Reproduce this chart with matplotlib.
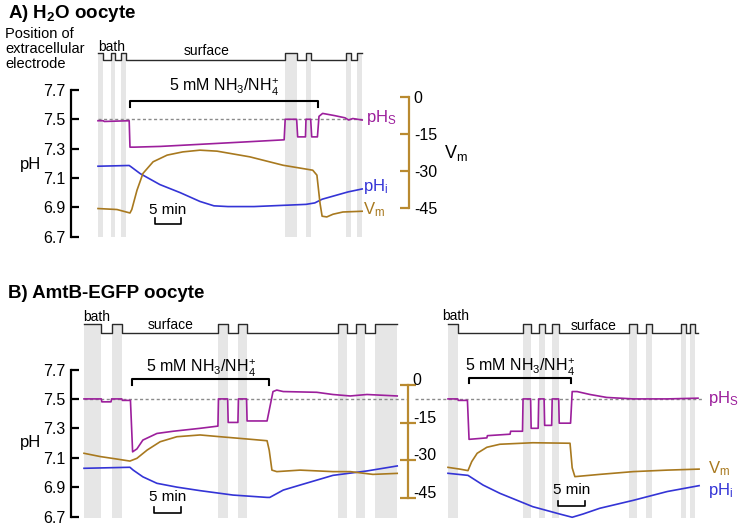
import matplotlib
matplotlib.use("Agg")
import matplotlib.pyplot as plt
from matplotlib.transforms import ScaledTranslation

plt.rcParams['font.family'] = ['Liberation Sans', 'DejaVu Sans']
plt.rcParams['mathtext.fontset'] = 'custom'
plt.rcParams['mathtext.rm'] = 'Liberation Sans'
plt.rcParams['mathtext.it'] = 'Liberation Sans:italic'
plt.rcParams['mathtext.bf'] = 'Liberation Sans:bold'

# ---------------- data ----------------
ph_ticks = [6.7, 6.9, 7.1, 7.3, 7.5, 7.7]
ph_ticklabels = ["6.7", "6.9", "7.1", "7.3", "7.5", "7.7"]
vm_ticks = [-45, -30, -15, 0]
vm_ticklabels = ["-45", "-30", "-15", "0"]
pHs_ref = 7.5
scale_min = 5

# Panel A: H2O oocyte (time in min)
A_bands = [(0, 1.0), (2.5, 3.3), (4.4, 5.4), (36.0, 38.3), (40.0, 41.0), (47.7, 48.7), (49.8, 50.8)]
A_trace_end = 50.8
A_nh4 = [6.15, 42.3]
A_pHs_t = [0, 1.0, 1.2, 6.0, 6.15, 7, 12, 20, 28, 35.8, 36.0, 38.2, 38.4, 39.9, 40.0, 40.9,
           41.1, 42.2, 42.5, 43.2, 45.5, 47.5, 48.2, 49.0, 50.8]
A_pHs = [7.49, 7.49, 7.485, 7.49, 7.31, 7.31, 7.315, 7.33, 7.345, 7.36, 7.50, 7.50, 7.38, 7.38,
         7.50, 7.50, 7.38, 7.38, 7.52, 7.54, 7.525, 7.51, 7.495, 7.505, 7.495]
A_pHi_t = [0, 6.0, 6.4, 8.1, 11.9, 15.8, 19.6, 22.3, 25, 30, 40, 41.7, 43.1, 45.6, 48.1, 50.8]
A_pHi = [7.18, 7.185, 7.175, 7.13, 7.055, 7.0, 6.94, 6.91, 6.905, 6.905, 6.92, 6.93, 6.955,
         6.98, 7.005, 7.025]
A_Vm_t = [0, 3.65, 6.15, 6.5, 7.5, 8.65, 10.6, 13.3, 16.3, 19.6, 22.9, 29.2, 35.6, 41.3, 42.1,
          42.7, 43.1, 44.0, 45.2, 47.1, 50.8]
A_Vm = [-45.1, -45.5, -46.9, -45.5, -37.7, -30.9, -26.2, -23.5, -22.2, -21.5, -21.9, -24.2,
        -27.6, -29.6, -31.6, -43.0, -48.2, -48.5, -47.4, -46.5, -46.2]

# Panel B left: AmtB-EGFP oocyte
BL_bands = [(0, 3.2), (5.1, 7.1), (24.9, 26.7), (28.6, 30.2), (47.1, 48.7), (50.3, 52.0), (53.9, 58.0)]
BL_trace_end = 58.0
BL_nh4 = [8.9, 34.3]
BL_pHs_t = [0, 3.2, 3.3, 5.0, 5.1, 7.0, 7.1, 8.6, 9.0, 9.8, 10.9, 13.5, 16.5, 21.5, 24.8, 24.9,
            26.6, 26.7, 28.5, 28.6, 30.1, 30.2, 33.9, 35.0, 35.7, 36.9, 43.1, 46.1, 49.3, 52.4, 58.0]
BL_pHs = [7.50, 7.50, 7.48, 7.48, 7.50, 7.50, 7.49, 7.49, 7.14, 7.16, 7.22, 7.265, 7.28, 7.30,
          7.315, 7.50, 7.50, 7.34, 7.34, 7.50, 7.50, 7.35, 7.35, 7.55, 7.56, 7.55, 7.545, 7.53,
          7.52, 7.53, 7.52]
BL_Vm_t = [0, 3.0, 6.1, 8.5, 9.8, 11.7, 14.1, 17.2, 21.5, 25.2, 30.7, 33.9, 34.3, 34.8, 35.7,
           40.0, 46.1, 49.3, 53.5, 58.0]
BL_Vm = [-27.2, -28.5, -29.5, -30.3, -29.2, -25.9, -22.6, -20.6, -19.9, -20.6, -21.6, -22.2,
         -26.0, -33.9, -34.5, -33.9, -34.5, -34.5, -35.6, -35.2]
BL_pHi_t = [0, 8.5, 9.1, 10.9, 13.5, 17.2, 21.5, 27.6, 33.9, 34.4, 36.9, 40.0, 46.1, 52.4, 58.0]
BL_pHi = [7.028, 7.035, 7.016, 6.97, 6.926, 6.90, 6.876, 6.846, 6.83, 6.83, 6.88, 6.914, 6.98,
          7.01, 7.044]

# Panel B right: AmtB-EGFP oocyte (second recording)
BR_bands = [(0, 1.9), (13.9, 15.4), (16.8, 17.9), (19.3, 20.6), (33.6, 35.0), (36.7, 37.8),
            (43.2, 44.0), (44.9, 45.8)]
BR_trace_end = 46.3
BR_nh4 = [3.9, 22.8]
BR_pHs_t = [0, 1.8, 1.9, 3.6, 3.9, 7.2, 7.3, 11.5, 11.6, 13.8, 13.9, 15.3, 15.4, 16.7, 16.8,
            17.8, 17.9, 19.2, 19.3, 20.5, 20.6, 22.7, 23.0, 23.9, 26.3, 29.4, 34.3, 40.6, 46.3]
BR_pHs = [7.50, 7.50, 7.49, 7.49, 7.225, 7.235, 7.25, 7.26, 7.28, 7.28, 7.50, 7.50, 7.30, 7.30,
          7.50, 7.50, 7.32, 7.32, 7.50, 7.50, 7.335, 7.335, 7.55, 7.55, 7.53, 7.51, 7.50, 7.50, 7.505]
BR_Vm_t = [0, 2.2, 3.7, 4.4, 5.4, 7.2, 9.6, 15.7, 22.6, 23.0, 23.5, 28.1, 34.3, 40.6, 46.5]
BR_Vm = [-32.8, -33.5, -34.1, -30.5, -27.2, -24.8, -23.6, -23.0, -23.2, -33.0, -36.5, -35.6,
         -34.5, -33.9, -33.5]
BR_pHi_t = [0, 3.7, 6.5, 9.6, 15.7, 20.7, 23.0, 25.0, 28.1, 34.3, 40.6, 46.5]
BR_pHi = [6.994, 6.98, 6.914, 6.858, 6.767, 6.717, 6.695, 6.717, 6.756, 6.81, 6.87, 6.91]

# ---------------- style ----------------
C_S = '#9C1F9C'
C_I = '#3434D6'
C_V = '#A8791F'
C_AX = '#B98A30'
C_BAND = '#E6E6E6'
C_EL = '#2a2a2a'
LW = 1.2

W, H = 741, 529
fig = plt.figure(figsize=(W / 100, H / 100), dpi=100)


def axpos(x0, x1, ytop, ybot):
    return [x0 / W, 1 - ybot / H, (x1 - x0) / W, (ybot - ytop) / H]


def hide(ax):
    ax.patch.set_visible(False)
    for s in ax.spines.values():
        s.set_visible(False)
    ax.set_xticks([])
    ax.set_yticks([])


def make_panel(x0, x1, ytop, ybot, xlim, ylim_ph, ylim_vm, el_bot):
    ax = fig.add_axes(axpos(x0, x1, ytop, ybot))
    ax.set_xlim(xlim)
    ax.set_ylim(ylim_ph)
    hide(ax)
    axv = ax.twinx()
    axv.set_ylim(ylim_vm)
    hide(axv)
    axe = fig.add_axes(axpos(x0, x1, ytop, el_bot))
    axe.set_xlim(xlim)
    axe.set_ylim(0, 1)
    hide(axe)
    return ax, axv, axe


def electrode(axe, bands, t_end):
    ts, lv = [], []
    for a, b in bands:
        ts += [a, min(b, t_end)]
        lv += [1, 0 if b < t_end else 1]
    if ts[-1] < t_end:
        ts.append(t_end)
        lv.append(lv[-1])
    axe.plot(ts, lv, drawstyle='steps-post', color=C_EL, lw=1.0, clip_on=False)


def bands_draw(ax, bands):
    for a, b in bands:
        ax.axvspan(a, b, color=C_BAND, lw=0, zorder=0)


def ph_axis(ax):
    ax.spines['left'].set_visible(True)
    ax.spines['left'].set_bounds(6.7, 7.7)
    ax.spines['left'].set_linewidth(1.6)
    ax.set_yticks(ph_ticks, ph_ticklabels)
    ax.tick_params(axis='y', direction='in', length=6, width=1.6, labelsize=11.5, pad=4)


def vm_axis(axv, direction, length, pad, raise_px=0):
    sp = axv.spines['right']
    sp.set_visible(True)
    sp.set_bounds(-45, 0)
    sp.set_color(C_AX)
    sp.set_linewidth(1.6)
    axv.set_yticks(vm_ticks, vm_ticklabels)
    axv.tick_params(axis='y', direction=direction, length=length, width=1.6, color=C_AX,
                    labelsize=11.5, pad=pad, labelcolor='black')
    if raise_px:
        off = ScaledTranslation(0, raise_px / 100, fig.dpi_scale_trans)
        for lab in axv.get_yticklabels():
            lab.set_transform(lab.get_transform() + off)


def bracket(ax, a, b, y_br, y_tk, y_txt):
    ax.plot([a, a, b, b], [y_tk, y_br, y_br, y_tk], color='black', lw=1.5, clip_on=False)
    ax.text((a + b) / 2, y_txt, r"5 mM NH$_\mathregular{3}$/NH$_\mathregular{4}^\mathregular{+}$",
            ha='center', va='center', fontsize=11.5)


def scalebar(ax, t0, y_bar, y_tk, y_txt):
    ax.plot([t0, t0, t0 + scale_min, t0 + scale_min], [y_tk, y_bar, y_bar, y_tk],
            color='black', lw=1.2, clip_on=False)
    ax.text(t0 + scale_min / 2, y_txt, "5 min", ha='center', va='center', fontsize=11)


def traces(ax, axv, pHs_t, pHs, pHi_t, pHi, vm_t, vm):
    axv.plot(vm_t, vm, color=C_V, lw=LW, clip_on=False, zorder=3)
    ax.plot(pHi_t, pHi, color=C_I, lw=LW, clip_on=False, zorder=3)
    ax.plot(pHs_t, pHs, color=C_S, lw=LW, clip_on=False, zorder=4)


# ---------------- Panel A ----------------
axA, axAv, axAe = make_panel(71, 409, 53, 237, (-5.19, 59.81), (6.6976, 7.9517),
                             (-56.61, 17.79), 60)
bands_draw(axA, A_bands)
electrode(axAe, A_bands, A_trace_end)
ph_axis(axA)
vm_axis(axAv, 'in', 6.5, 3.5)
axA.plot([0, A_trace_end], [pHs_ref, pHs_ref], color='#8a8a8a', lw=1.0,
         linestyle=(0, (2.2, 1.8)), zorder=2)
traces(axA, axAv, A_pHs_t, A_pHs, A_pHi_t, A_pHi, A_Vm_t, A_Vm)
bracket(axA, A_nh4[0], A_nh4[1], 7.625, 7.584, 7.714)
scalebar(axA, 10.96, 6.788, 6.829, 6.884)
axA.text(51.5, 7.51, r"pH$_\mathregular{S}$", color=C_S, fontsize=12, va='center', ha='left')
axA.text(51.0, 7.04, r"pH$_\mathregular{i}$", color=C_I, fontsize=12, va='center', ha='left')
axAv.text(51.0, -45.7, r"V$_\mathregular{m}$", color=C_V, fontsize=12, va='center', ha='left')
axAe.text(0, 1.86, "bath", fontsize=10, ha='left', va='center')
axAe.text(20.8, 1.29, "surface", fontsize=10, ha='center', va='center')

fig.text(8 / W, 1 - 18 / H, r"A) H$_\mathbf{2}$O oocyte", fontsize=13.5, fontweight='bold',
         ha='left', va='baseline')
fig.text(5 / W, 1 - 27 / H, "Position of\nextracellular\nelectrode", fontsize=10.5,
         ha='left', va='top', linespacing=1.1)
fig.text(20 / W, 1 - 164 / H, "pH", fontsize=12, ha='left', va='center')
fig.text(444 / W, 1 - 153 / H, r"V$_\mathregular{m}$", fontsize=13, ha='left', va='center')

# ---------------- Panel B left ----------------
B_ph = (6.690, 8.0095)
B_vm = (-52.97, 24.29)
axL, axLv, axLe = make_panel(71, 408, 324, 518, (-2.41, 60.0), B_ph, B_vm, 333)
bands_draw(axL, BL_bands)
electrode(axLe, BL_bands, BL_trace_end)
ph_axis(axL)
vm_axis(axLv, 'inout', 12, -2.5, raise_px=6)
axL.plot([0, 60.0], [pHs_ref, pHs_ref], color='#8a8a8a', lw=1.0,
         linestyle=(0, (2.2, 1.8)), zorder=2, clip_on=False)
traces(axL, axLv, BL_pHs_t, BL_pHs, BL_pHi_t, BL_pHi, BL_Vm_t, BL_Vm)
bracket(axL, BL_nh4[0], BL_nh4[1], 7.635, 7.594, 7.71)
scalebar(axL, 12.96, 6.726, 6.767, 6.833)
axLe.text(-0.2, 1.78, "bath", fontsize=10, ha='left', va='center')
axLe.text(16.1, 0.89, "surface", fontsize=10, ha='center', va='center')

fig.text(8 / W, 1 - 298 / H, "B) AmtB-EGFP oocyte", fontsize=13.5, fontweight='bold',
         ha='left', va='baseline')
fig.text(20 / W, 1 - 443 / H, "pH", fontsize=12, ha='left', va='center')

# ---------------- Panel B right ----------------
axR, axRv, axRe = make_panel(440, 700, 324, 518, (-1.48, 46.67), B_ph, B_vm, 333)
bands_draw(axR, BR_bands)
electrode(axRe, BR_bands, BR_trace_end)
axR.plot([-6.2, 47.0], [pHs_ref, pHs_ref], color='#8a8a8a', lw=1.0,
         linestyle=(0, (2.2, 1.8)), zorder=2, clip_on=False)
traces(axR, axRv, BR_pHs_t, BR_pHs, BR_pHi_t, BR_pHi, BR_Vm_t, BR_Vm)
bracket(axR, BR_nh4[0], BR_nh4[1], 7.644, 7.608, 7.717)
scalebar(axR, 20.4, 6.773, 6.807, 6.88)
axR.text(48.1, 7.506, r"pH$_\mathregular{S}$", color=C_S, fontsize=12, va='center', ha='left')
axR.text(48.1, 6.88, r"pH$_\mathregular{i}$", color=C_I, fontsize=12, va='center', ha='left')
axRv.text(48.1, -33.3, r"V$_\mathregular{m}$", color=C_V, fontsize=12, va='center', ha='left')
axRe.text(-1.1, 1.89, "bath", fontsize=10, ha='left', va='center')
axRe.text(27.0, 0.78, "surface", fontsize=10, ha='center', va='center')

fig.savefig("out.png", dpi=100)
